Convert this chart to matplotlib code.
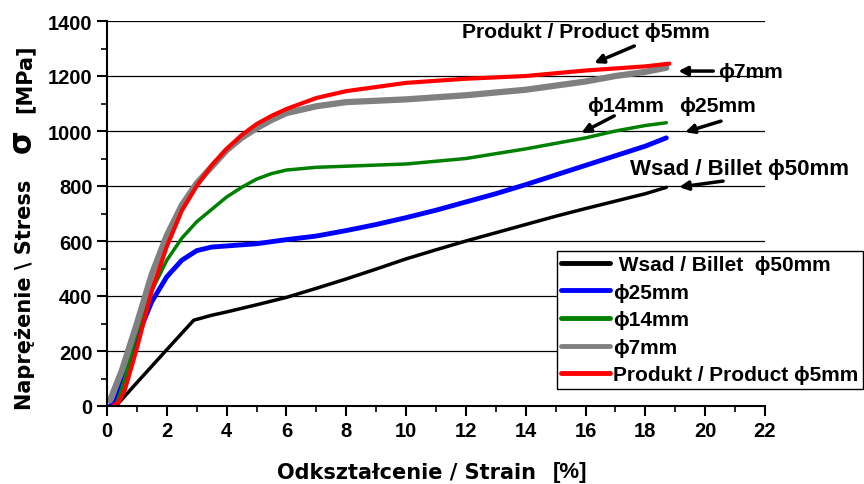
import matplotlib
matplotlib.use("Agg")
import matplotlib.pyplot as plt
from matplotlib.ticker import MultipleLocator

plt.rcParams['font.family'] = ['Liberation Sans', 'DejaVu Sans']
plt.rcParams['font.weight'] = 'bold'

# Data (strain %, stress MPa)
billet_x = [0.3, 1.0, 2.0, 2.9, 3.5, 4, 5, 6, 7, 8, 9, 10, 11, 12, 13, 14, 15, 16, 17, 18, 18.7]
billet_y = [0, 85, 205, 312, 330, 342, 368, 395, 428, 462, 498, 535, 568, 600, 630, 660, 690, 718, 745, 772, 795]

d25_x = [0.1, 0.3, 0.6, 1.0, 1.5, 2.0, 2.5, 3.0, 3.5, 4, 5, 6, 7, 8, 9, 10, 11, 12, 13, 14, 15, 16, 17, 18, 18.7]
d25_y = [0, 20, 110, 250, 380, 470, 530, 565, 578, 582, 590, 605, 618, 638, 660, 685, 712, 742, 772, 805, 840, 875, 910, 945, 975]

d14_x = [0.3, 0.6, 1.0, 1.5, 2.0, 2.5, 3.0, 3.5, 4, 4.5, 5, 5.5, 6, 7, 8, 10, 12, 14, 16, 17, 18, 18.7]
d14_y = [0, 100, 270, 420, 530, 610, 670, 715, 760, 795, 825, 845, 858, 868, 872, 880, 900, 935, 975, 1000, 1020, 1030]

d7_x = [0.1, 0.5, 1.0, 1.5, 2.0, 2.5, 3.0, 3.5, 4, 4.5, 5, 5.5, 6, 7, 8, 10, 12, 14, 16, 17, 18, 18.7]
d7_y = [20, 130, 300, 480, 620, 730, 810, 870, 930, 975, 1010, 1040, 1065, 1090, 1105, 1115, 1130, 1150, 1180, 1200, 1215, 1230]

d5_x = [0.2, 0.4, 0.6, 1.0, 1.5, 2.0, 2.5, 3.0, 3.5, 4, 4.5, 5, 5.5, 6, 7, 8, 10, 12, 14, 16, 18, 18.8]
d5_y = [0, 15, 60, 210, 420, 580, 710, 800, 875, 935, 985, 1025, 1055, 1080, 1120, 1145, 1175, 1190, 1200, 1220, 1235, 1245]

labels = [" Wsad / Billet  ϕ50mm", "ϕ25mm", "ϕ14mm", "ϕ7mm", "Produkt / Product ϕ5mm"]
colors = ["black", "#0000ff", "#008000", "#808080", "#ff0000"]

W, H = 864, 485
fig = plt.figure(figsize=(W / 100, H / 100), dpi=100)
ax = fig.add_axes([107 / W, 1 - 407 / H, (765 - 107) / W, (407 - 22) / H])

series = [(billet_x, billet_y, 2.5), (d25_x, d25_y, 3.5), (d14_x, d14_y, 2.5),
          (d7_x, d7_y, 4.5), (d5_x, d5_y, 3.0)]
for (xs, ys, lw), lab, c in zip(series, labels, colors):
    ax.plot(xs, ys, color=c, lw=lw, label=lab, solid_capstyle='round')

ax.set_xlim(0, 22)
ax.set_ylim(0, 1400)
ax.xaxis.set_major_locator(MultipleLocator(2))
ax.xaxis.set_minor_locator(MultipleLocator(1))
ax.yaxis.set_major_locator(MultipleLocator(200))
ax.yaxis.set_minor_locator(MultipleLocator(100))
ax.tick_params(which='major', direction='out', length=7, width=1.5, labelsize=14.5)
ax.tick_params(which='minor', direction='out', length=4, width=1.2)
for lbl in ax.get_xticklabels() + ax.get_yticklabels():
    lbl.set_fontweight('bold')
ax.grid(axis='y', which='major', color='black', lw=0.9)
ax.set_axisbelow(True)
for s in ['top', 'right']:
    ax.spines[s].set_visible(False)
for s in ['left', 'bottom']:
    ax.spines[s].set_linewidth(1.5)

# axis labels (composed of parts with different sizes)
dv = ['DejaVu Sans']
fig.text(277 / W, 1 - 479 / H, "Odkształcenie / Strain", family=dv, fontsize=15,
         fontweight='bold', ha='left', va='baseline')
fig.text(553 / W, 1 - 478 / H, "[%]", fontsize=16, fontweight='bold',
         ha='left', va='baseline')
fig.text(25 / W, 1 - 295 / H, "Naprężenie \\ Stress", family=dv, fontsize=15,
         fontweight='bold', rotation=90, ha='center', va='center')
fig.text(22 / W, 1 - 141 / H, "σ", family=dv, fontsize=22, fontweight='bold',
         rotation=90, ha='center', va='center')
fig.text(25 / W, 1 - 79 / H, "[MPa]", family=dv, fontsize=15, fontweight='bold',
         rotation=90, ha='center', va='center')

leg = fig.legend(loc='upper left', bbox_to_anchor=(557 / W, 1 - 252 / H), fontsize=15,
                 frameon=True, fancybox=False, edgecolor='black', framealpha=1,
                 handlelength=2.35, handletextpad=0.15, labelspacing=0.41,
                 borderpad=0.2, borderaxespad=0)
leg.get_frame().set_linewidth(1.0)
for t in leg.get_texts():
    t.set_fontweight('bold')
for h in leg.legend_handles:
    h.set_linewidth(3.5)

ap = dict(arrowstyle='-|>', lw=2.5, color='black', mutation_scale=13, shrinkA=0, shrinkB=0)
fs = 15.2
ax.text(16.0, 1360, "Produkt / Product ϕ5mm", fontsize=fs, fontweight='bold', ha='center', va='center')
ax.annotate("", xy=(16.29, 1247), xytext=(17.63, 1309), arrowprops=ap, annotation_clip=False)
ax.text(20.43, 1218, "ϕ7mm", fontsize=fs, fontweight='bold', ha='left', va='center', clip_on=False)
ax.annotate("", xy=(19.1, 1218), xytext=(20.27, 1218), arrowprops=ap, annotation_clip=False)
ax.text(17.34, 1091, "ϕ14mm", fontsize=fs, fontweight='bold', ha='center', va='center')
ax.annotate("", xy=(15.86, 993), xytext=(16.96, 1055), arrowprops=ap, annotation_clip=False)
ax.text(20.4, 1091, "ϕ25mm", fontsize=fs, fontweight='bold', ha='center', va='center', clip_on=False)
ax.annotate("", xy=(19.33, 996), xytext=(20.53, 1036), arrowprops=ap, annotation_clip=False)
ax.text(21.14, 862, "Wsad / Billet ϕ50mm", fontsize=16, fontweight='bold', ha='center', va='center', clip_on=False)
ax.annotate("", xy=(19.13, 796), xytext=(20.6, 818), arrowprops=ap, annotation_clip=False)

fig.savefig("out.png", dpi=100)
